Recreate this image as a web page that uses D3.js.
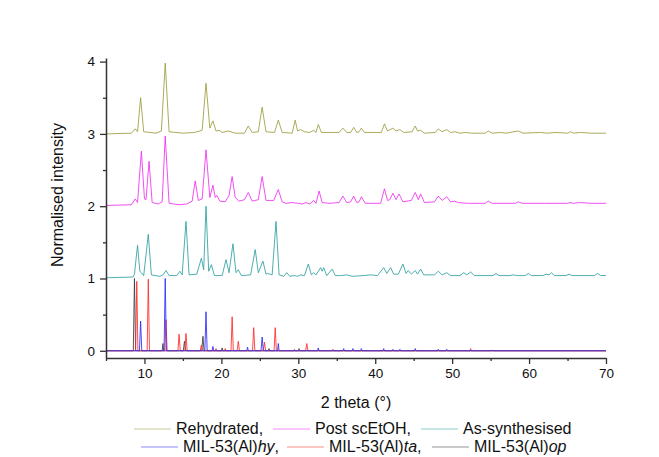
<!DOCTYPE html>
<html>
<head>
<meta charset="utf-8">
<style>
body { margin: 0; background: #fff; }
svg { font-family: "Liberation Sans", Arial, sans-serif; }
</style>
</head>
<body>
<svg width="659" height="457"></svg>
<script src="https://cdn.jsdelivr.net/npm/d3@7"></script>
<script>

// series values, [2 theta, normalised intensity]
var rehydrated = [[5,3.00],[8.3,3.01],[8.8,3.07],[9.1,3.03],[9.5,3.50],[9.9,3.03],[11.5,3.01],[12.2,3.04],[12.7,3.98],[13.2,3.03],
  [15,3.01],[16.5,3.02],[17.5,3.05],[18.0,3.70],[18.5,3.08],[18.9,3.18],[19.3,3.04],[19.7,3.05],[20.1,3.02],[20.9,3.04],[21.8,3.01],
  [23.0,3.01],[23.5,3.11],[24.0,3.02],[24.8,3.03],[25.3,3.37],[25.8,3.03],[26.9,3.02],[27.4,3.19],[27.9,3.02],[29.2,3.01],[29.6,3.19],
  [29.9,3.04],[30.3,3.06],[30.8,3.03],[31.5,3.02],[32.0,3.05],[32.3,3.02],[32.6,3.13],[33.0,3.02],[35.3,3.02],[35.8,3.08],[36.3,3.02],
  [36.8,3.02],[37.2,3.09],[37.6,3.02],[37.9,3.03],[38.2,3.08],[38.6,3.02],[40.8,3.02],[41.2,3.14],[41.6,3.04],[42.3,3.08],[42.7,3.04],
  [43.2,3.06],[43.7,3.02],[44.8,3.03],[45.2,3.11],[45.5,3.04],[45.9,3.05],[46.4,3.01],[47.8,3.02],[48.2,3.07],[48.7,3.03],[49.3,3.06],
  [49.8,3.02],[50.4,3.03],[51,3.01],[51.7,3.02],[52.5,3.01],[54.3,3.01],[54.7,3.04],[55.2,3.01],[56.3,3.02],[57,3.01],[58.6,3.04],
  [59.2,3.01],[61.5,3.02],[62.3,3.01],[63.5,3.02],[65.0,3.01],[65.4,3.03],[65.8,3.01],[66.7,3.02],[68,3.01],[70,3.01]];

var postScEtOH = [[5,2.01],[8.3,2.02],[8.8,2.10],[9.1,2.05],[9.6,2.76],[10.0,2.10],[10.2,2.09],[10.6,2.62],[11.0,2.05],[11.8,2.03],
  [12.3,2.06],[12.7,2.97],[13.2,2.04],[14.5,2.02],[15.5,2.03],[16.2,2.07],[16.6,2.35],[17.0,2.08],[17.5,2.10],[18.0,2.78],[18.5,2.12],
  [18.9,2.29],[19.2,2.12],[19.4,2.15],[19.8,2.07],[20.5,2.06],[21.0,2.15],[21.4,2.41],[21.8,2.12],[22.3,2.07],[23.0,2.09],[23.5,2.19],
  [24.0,2.07],[24.8,2.09],[25.3,2.41],[25.8,2.08],[26.8,2.08],[27.4,2.23],[27.9,2.06],[28.4,2.04],[29.2,2.05],[30.0,2.04],[30.5,2.03],
  [31,2.05],[31.5,2.03],[32.0,2.08],[32.3,2.04],[32.7,2.21],[33.1,2.05],[34,2.04],[35.3,2.05],[35.8,2.14],[36.3,2.05],[36.8,2.06],
  [37.2,2.14],[37.6,2.05],[37.9,2.06],[38.2,2.13],[38.7,2.04],[40.7,2.04],[41.2,2.24],[41.6,2.08],[41.9,2.09],[42.3,2.18],[42.7,2.09],
  [43.1,2.17],[43.6,2.06],[44.7,2.08],[45.2,2.19],[45.6,2.09],[45.9,2.17],[46.4,2.05],[47.7,2.06],[48.2,2.14],[48.7,2.08],[49.3,2.13],
  [49.8,2.06],[50.3,2.07],[50.8,2.05],[52,2.04],[54.3,2.04],[54.7,2.07],[55.2,2.04],[58.2,2.04],[58.6,2.06],[59.1,2.04],[62,2.04],
  [65,2.04],[65.3,2.05],[65.7,2.04],[66.7,2.05],[68,2.04],[70,2.04]];

var asSynthesised = [[5,1.01],[8.5,1.02],[8.7,1.06],[9.1,1.46],[9.4,1.10],[9.6,1.08],[9.9,1.04],[10.5,1.61],[10.9,1.05],[12,1.03],
  [12.4,1.05],[12.8,1.11],[13.2,1.04],[14.2,1.04],[14.6,1.10],[14.9,1.05],[15.4,1.79],[15.8,1.05],[16.8,1.06],[17.4,1.28],[17.7,1.12],
  [18.0,2.00],[18.35,1.10],[18.7,1.19],[19.1,1.04],[20.1,1.04],[20.6,1.26],[21.0,1.08],[21.5,1.48],[21.9,1.08],[22.2,1.12],[22.6,1.04],
  [23.8,1.05],[24.4,1.40],[24.8,1.08],[25.4,1.24],[25.8,1.06],[26.0,1.07],[26.6,1.05],[27.1,1.79],[27.5,1.05],[28.1,1.03],[28.5,1.08],
  [28.9,1.03],[29.5,1.04],[29.9,1.03],[30.3,1.05],[30.8,1.04],[31.3,1.20],[31.7,1.05],[32.0,1.08],[32.3,1.05],[32.9,1.15],[33.1,1.10],
  [33.3,1.15],[33.7,1.04],[34.4,1.13],[34.8,1.04],[35.5,1.04],[36.3,1.05],[37,1.03],[38.5,1.04],[39.4,1.05],[40.3,1.04],[41.1,1.15],
  [41.5,1.07],[42.0,1.15],[42.4,1.06],[43.0,1.06],[43.6,1.20],[44.0,1.07],[44.3,1.11],[44.7,1.06],[45.2,1.11],[45.5,1.06],[45.9,1.13],
  [46.3,1.05],[47.7,1.05],[48.2,1.10],[48.7,1.05],[49.3,1.08],[49.8,1.04],[51.0,1.04],[51.5,1.08],[51.9,1.05],[52.4,1.09],[52.9,1.04],
  [55.3,1.04],[55.7,1.07],[56.1,1.04],[57.5,1.04],[57.9,1.05],[58.5,1.04],[59.5,1.04],[59.9,1.07],[60.3,1.04],[61.8,1.04],[62.2,1.06],
  [62.6,1.05],[62.9,1.08],[63.3,1.04],[64.8,1.04],[65.2,1.06],[65.6,1.04],[68.5,1.04],[68.9,1.07],[69.3,1.04],[70,1.04]];

var milHy = [[5,0],[9.35,0],[9.5,0.41],[9.65,0],[12.55,0],[12.7,1.0],[12.85,0],[17.85,0],[18.0,0.54],[18.15,0],[18.8,0],[18.9,0.06],
  [19.0,0],[23.3,0],[23.4,0.05],[23.5,0],[25.15,0],[25.3,0.19],[25.45,0],[27.3,0],[27.4,0.10],[27.5,0],[32.5,0],[32.6,0.04],[32.7,0],
  [35.8,0],[35.9,0.03],[36.0,0],[37.0,0],[37.1,0.03],[37.2,0],[38.1,0],[38.2,0.03],[38.3,0],[41.0,0],[41.1,0.03],[41.2,0],[42.2,0],
  [42.3,0.02],[42.4,0],[43.1,0],[43.2,0.02],[43.3,0],[45.1,0],[45.2,0.03],[45.3,0],[48.1,0],[48.2,0.02],[48.3,0],[49.2,0],[49.3,0.02],
  [49.4,0],[55.1,0],[55.2,0.01],[55.3,0],[70,0]];

var milTa = [[5,0],[8.85,0],[9.0,0.96],[9.15,0],[10.35,0],[10.5,0.99],[10.65,0],[12.65,0],[12.8,0.43],[12.95,0],[14.35,0],[14.5,0.23],
  [14.65,0],[15.25,0],[15.4,0.24],[15.55,0],[17.25,0],[17.4,0.08],[17.55,0],[19.2,0],[19.3,0.03],[19.4,0],[20.4,0],[20.5,0.03],[20.6,0],
  [21.25,0],[21.4,0.47],[21.55,0],[22.05,0],[22.2,0.13],[22.35,0],[24.05,0],[24.2,0.32],[24.35,0],[25.45,0],[25.6,0.12],[25.75,0],
  [26.85,0],[27.0,0.32],[27.15,0],[29.4,0],[29.5,0.02],[29.6,0],[30.95,0],[31.1,0.10],[31.25,0],[34.4,0],[34.5,0.02],[34.6,0],
  [52.3,0],[52.4,0.03],[52.5,0],[70,0]];

var milOp = [[5,0],[8.55,0],[8.7,1.0],[8.85,0],[12.3,0],[12.4,0.10],[12.5,0],[15.05,0],[15.2,0.13],[15.35,0],[17.45,0],[17.6,0.20],
  [17.75,0],[20.0,0],[20.1,0.04],[20.2,0],[26.1,0],[26.2,0.03],[26.3,0],[30.0,0],[30.1,0.03],[30.2,0],[70,0]];

var xMajorTicks = [10, 20, 30, 40, 50, 60, 70];
var xMinorTicks = [5, 15, 25, 35, 45, 55, 65];
var yMajorTicks = [0, 1, 2, 3, 4];
var yMinorTicks = [0.5, 1.5, 2.5, 3.5];

// plot order: references first, experimental on top; legend order below
var series = [
  {name: "MIL-53(Al)", tag: "op", data: milOp, color: "#3a3a3a"},
  {name: "MIL-53(Al)", tag: "ta", data: milTa, color: "#ff2a2a"},
  {name: "MIL-53(Al)", tag: "hy", data: milHy, color: "#2a2aff"},
  {name: "As-synthesised", data: asSynthesised, color: "#30a0a0"},
  {name: "Post scEtOH,", data: postScEtOH, color: "#f030f0"},
  {name: "Rehydrated,", data: rehydrated, color: "#9c9c40"}
];

var svg = d3.select("svg");

var x = d3.scaleLinear().domain([5, 70]).range([106, 606]);
var y = d3.scaleLinear().domain([-0.1, 4.05]).range([358, 58]);

//lines
var line = d3.line()
  .x(function(d){ return x(d[0]); })
  .y(function(d){ return y(d[1]); });

svg.append("g").selectAll("path")
  .data(series)
  .enter().append("path")
  .attr("d", function(d){ return line(d.data); })
  .attr("fill", "none")
  .attr("stroke", function(d){ return d.color; })
  .attr("stroke-width", 1)
  .attr("stroke-opacity", 0.85)
  .attr("stroke-linejoin", "round");

//axes
var axisColor = "#333";

var xMinor = svg.append("g").attr("transform", "translate(0," + y(-0.1) + ")")
  .call(d3.axisBottom(x).tickValues(xMinorTicks).tickSize(3).tickFormat(""));
var xMajor = svg.append("g").attr("transform", "translate(0," + y(-0.1) + ")")
  .call(d3.axisBottom(x).tickValues(xMajorTicks).tickSize(6).tickSizeOuter(0).tickPadding(4));

var yMinor = svg.append("g").attr("transform", "translate(" + x(5) + ",0)")
  .call(d3.axisLeft(y).tickValues(yMinorTicks).tickSize(3).tickFormat(""));
var yMajor = svg.append("g").attr("transform", "translate(" + x(5) + ",0)")
  .call(d3.axisLeft(y).tickValues(yMajorTicks).tickFormat(d3.format("d"))
    .tickSize(6).tickSizeOuter(0).tickPadding(5));

[xMinor, yMinor].forEach(function(g){ g.select(".domain").remove(); });
[xMinor, xMajor, yMinor, yMajor].forEach(function(g){
  g.selectAll("line").attr("stroke", axisColor).attr("stroke-width", 1.3);
  g.selectAll(".domain").attr("stroke", axisColor).attr("stroke-width", 1.5);
  g.selectAll("text").attr("fill", "#111").style("font-size", "13.5px")
    .style("font-family", "'Liberation Sans', Arial, sans-serif");
});

// axis titles
svg.append("text")
  .attr("x", x(37.5)).attr("y", 408)
  .attr("text-anchor", "middle")
  .style("font-size", "16px").attr("fill", "#111")
  .text("2 theta (\u00b0)");

svg.append("text")
  .attr("transform", "translate(63,195) rotate(-90)")
  .attr("text-anchor", "middle")
  .style("font-size", "16px").attr("fill", "#111")
  .text("Normalised intensity");

// legend, two rows
var legendRows = [
  [{s: series[5], lx: 134}, {s: series[4], lx: 273}, {s: series[3], lx: 421}],
  [{s: series[2], lx: 141}, {s: series[1], lx: 287}, {s: series[0], lx: 432}]
];
var rowY = [434, 452];

legendRows.forEach(function(row, i){
  var g = svg.append("g").selectAll("g").data(row).enter().append("g");
  g.append("line")
    .attr("x1", function(d){ return d.lx; })
    .attr("x2", function(d){ return d.lx + 37; })
    .attr("y1", rowY[i] - 5).attr("y2", rowY[i] - 5)
    .attr("stroke", function(d){ return d.s.color; })
    .attr("stroke-opacity", 0.55)
    .attr("stroke-width", 1.2);
  var t = g.append("text")
    .attr("x", function(d){ return d.lx + 42; })
    .attr("y", rowY[i])
    .style("font-size", "16px").attr("fill", "#111");
  t.append("tspan").text(function(d){ return d.s.name; });
  t.filter(function(d){ return d.s.tag; }).append("tspan")
    .style("font-style", "italic").text(function(d){ return d.s.tag; });
  t.filter(function(d){ return d.s.tag && d.s.tag !== "op"; }).append("tspan").text(",");
});

</script>
</body>
</html>
